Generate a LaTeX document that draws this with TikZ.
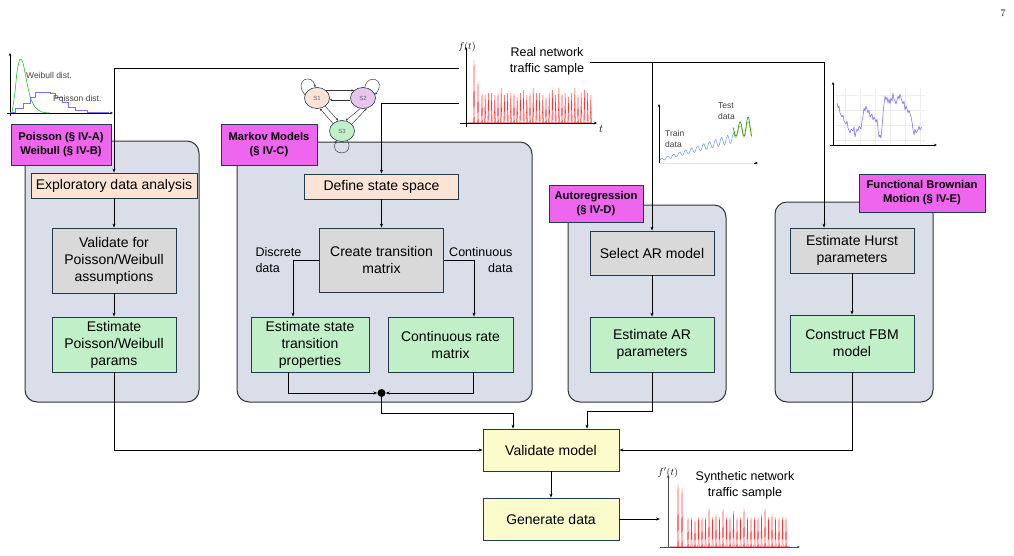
\documentclass[tikz,border=0pt]{standalone}
\usepackage{fontspec}
\setmainfont{Liberation Sans}
\newfontfamily\lmfont{Latin Modern Roman}
\usetikzlibrary{arrows.meta,shapes.geometric}
\definecolor{cpanel}{HTML}{D9DEE8}
\definecolor{ctag}{HTML}{EE66EE}
\definecolor{cpeach}{HTML}{FBE3D6}
\definecolor{cgrey}{HTML}{D9D9D9}
\definecolor{cgreen}{HTML}{C1F0C8}
\definecolor{cyellow}{HTML}{FBFBCB}
\definecolor{cpurple}{HTML}{E6C6EC}
\definecolor{cedge}{HTML}{1F3A4B}
\begin{document}
\begin{tikzpicture}[x=1pt,y=-1pt,
  arr/.style={-{Stealth[length=4pt,width=3pt]},line width=0.7pt},
  sarr/.style={-{Stealth[length=2.5pt,width=2.2pt]},line width=0.45pt,black!80},
  axis/.style={-{Stealth[length=3pt,width=2.5pt]},line width=0.5pt},
  panel/.style={draw=black!80,line width=1pt,fill=cpanel,rounded corners=12pt},
  wh/.style 2 args={minimum width=#1pt,minimum height=#2pt},
  box/.style={draw=cedge,line width=0.8pt,align=center,inner sep=0pt,font=\fontsize{14}{17}\selectfont},
  tag/.style={draw=cedge,line width=0.9pt,fill=ctag,align=center,inner sep=0pt,font=\fontsize{11.2}{14}\selectfont\bfseries},
  state/.style={ellipse,draw=cedge,line width=0.6pt,wh={25}{21},inner sep=0pt,font=\fontsize{6}{7}\selectfont,text=black!60},
  note/.style={align=center,font=\fontsize{12.5}{16}\selectfont},
  small/.style={align=left,inner sep=0pt,font=\fontsize{8.5}{11}\selectfont,text=black!75},
  spike/.style={red!80,line width=0.4pt},
  base/.style={red!35,line width=0.6pt}]
\useasboundingbox (0,0) rectangle (1014,555);
\node[font=\lmfont\fontsize{10}{12}\selectfont] (pg) at (1003,13) {7};

\draw[panel] (25,141) rectangle (199,402);
\draw[panel] (237,142) rectangle (532,402);
\draw[panel] (568,205) rectangle (726,402);
\draw[panel] (775,202) rectangle (933,402);
\node[tag,wh={100}{41}] (lpw) at (61,144.5) {Poisson (§ IV-A)\\Weibull (§ IV-B)};
\node[tag,wh={96}{41}] (lmk) at (269,144.5) {Markov Models\\(§ IV-C)};
\node[tag,wh={94}{37}] (lar) at (596,203.5) {Autoregression\\(§ IV-D)};
\node[tag,wh={126}{38}] (lfbm) at (922,193) {Functional Brownian\\Motion (§ IV-E)};

\node[box,fill=cpeach,wh={166}{25}] (eda) at (114,185.5) {Exploratory data analysis};
\node[box,fill=cgrey,wh={124}{65}] (valpw) at (114,260.5) {Validate for\\Poisson/Weibull\\assumptions};
\node[box,fill=cgreen,wh={124}{55}] (estpw) at (114,344.5) {Estimate\\Poisson/Weibull\\params};
\node[box,fill=cpeach,wh={154}{25}] (dss) at (381.5,186.5) {Define state space};
\node[box,fill=cgrey,wh={124}{64}] (ctm) at (381.5,260) {Create transition\\matrix};
\node[box,fill=cgreen,wh={118}{55}] (ests) at (310,344.5) {Estimate state\\transition\\properties};
\node[box,fill=cgreen,wh={125}{55}] (crm) at (450.5,344.5) {Continuous rate\\matrix};
\node[box,fill=cgrey,wh={124}{44}] (selar) at (652,253) {Select AR model};
\node[box,fill=cgreen,wh={124}{55}] (estar) at (652,344.5) {Estimate AR\\parameters};
\node[box,fill=cgrey,wh={124}{45}] (hurst) at (852,250.5) {Estimate Hurst\\parameters};
\node[box,fill=cgreen,wh={124}{57}] (fbm) at (852,343.5) {Construct FBM\\model};
\node[box,fill=cyellow,wh={136}{42}] (valm) at (551,450) {Validate model};
\node[box,fill=cyellow,wh={136}{42}] (gen) at (551,519) {Generate data};
\node[note,align=left,anchor=west] (disc) at (252,260) {Discrete\\data};
\node[note,align=right,anchor=east] (cont) at (516,260) {Continuous\\data};
\node[circle,fill=black,inner sep=0pt,minimum size=8pt] (dot) at (381.5,393) {};

\coordinate (tapa) at (459,68); \coordinate (tapb) at (459,103); \coordinate (tapc) at (590,62);
\coordinate (synin) at (660,519);
\draw[arr] (tapa) -| (eda.north);
\draw[arr] (tapb) -| (dss.north);
\draw[arr] (tapc) -| (selar.north);
\draw[arr] (tapc) -| ([xshift=-28pt]hurst.north);
\draw[arr] (eda) -- (valpw); \draw[arr] (valpw) -- (estpw);
\draw[arr] (estpw.south) |- (valm.west);
\draw[arr] (dss) -- (ctm);
\draw[arr] (ctm.west) -| ([xshift=-17pt]ests.north);
\draw[arr] (ctm.east) -| ([xshift=23.5pt]crm.north);
\draw[arr] ([xshift=-22pt]ests.south) |- (dot);
\draw[arr] ([xshift=22.5pt]crm.south) |- (dot);
\draw[arr] (dot) -- (381.5,413) -| ([xshift=-38pt]valm.north);
\draw[arr] (selar) -- (estar);
\draw[arr] (estar.south) -- (652,411) -| ([xshift=36pt]valm.north);
\draw[arr] (hurst) -- (fbm);
\draw[arr] (fbm.south) |- (valm.east);
\draw[arr] (valm) -- (gen);
\draw[arr] (gen.east) -- (synin);

\node[state,fill=cpeach] (s1) at (317,98) {S1};
\node[state,fill=cpurple] (s2) at (363,98) {S2};
\node[state,fill=cgreen] (s3) at (342,131) {S3};
\draw[sarr] (s1.40) -- (s2.140); \draw[sarr] (s2.188) -- (s1.-8);
\draw[sarr] (s3.140) -- (s1.-75); \draw[sarr] (s1.-45) -- (s3.110);
\draw[sarr] (s2.-105) -- (s3.70); \draw[sarr] (s3.35) -- (s2.-70);
\draw[sarr] (s1.165) .. controls +(-12,-16) and +(-2,-14) .. (s1.100);
\draw[sarr] (s2.80) .. controls +(2,-14) and +(12,-16) .. (s2.15);
\draw[sarr] (s3.-60) .. controls +(8,16) and +(-8,16) .. (s3.-120);

\draw[axis] (10,116) -- (10,53); \draw[axis] (7,113) -- (113,113);
\draw[green!45!black!50!green,line width=0.5pt] plot[smooth] coordinates {(12,113) (15,92) (17,72) (20,59) (23,63) (26,78) (30,96) (35,107) (42,112) (50,113)};
\draw[blue!55,line width=0.5pt] (10,112) -| (15,108) -| (23,103) -| (30,97) -| (35,92) -| (50,93) -| (55,97) -| (62,102) -| (68,107) -| (75,110) -| (87,112) -| (108,113);
\node[small,anchor=west] (wbl) at (26,75) {Weibull dist.};
\node[small,anchor=west] (psn) at (53,98) {Poisson dist.};

\draw[axis] (466,127) -- (466,47); \draw[axis] (460,123) -- (597,123);
\node[font=\fontsize{10}{12}\selectfont] (ft) at (467,47) {$f(t)$};
\node[font=\fontsize{11}{12}\selectfont] (tt) at (601,129) {$t$};
\node[note] (real) at (547,61) {Real network\\traffic sample};
\draw[base] (468,122) -- (592,122);
\draw[spike] (473.4,123) -- (474,60) -- (474.6,123); \draw[spike] (477.4,123) -- (478,81) -- (478.6,123);
\foreach \h [count=\i from 0] in {93,95,93,93,95,93,88,95,93,93,93,97,93,90,95,93,88,93,93,95,97,93,90,95,88,93,93,97,93,88,95,93,90,93,95}
  \draw[spike] ({482+3.2*\i-0.6},123) -- ({482+3.2*\i},\h) -- ({482+3.2*\i+0.6},123);

\draw[axis] (659,164) -- (659,104);
\draw[black!12,line width=0.4pt] (659,163) -- (754,163); \draw[axis] (754,163) -- (758,163);
\draw[orange!60,line width=0.6pt] plot[domain=73:92,samples=60] ({660+\x},{134-0.3*(\x-73)-(4+0.25*(\x-73))*sin((\x-80)*45+90)});
\draw[cyan!50!blue!60,line width=0.5pt] plot[domain=0:75,samples=220] ({660+\x},{160-0.3*\x-(1+0.05*\x)*sin(\x*60)});
\draw[green!50!black!70!green,line width=0.6pt] plot[domain=73:92,samples=60] ({660+\x},{131-0.3*(\x-73)-(5+0.3*(\x-73))*sin((\x-80)*45+90)});
\node[small,anchor=north west] (trn) at (665,130) {Train\\data};
\node[small,anchor=north west] (tst) at (718,102) {Test\\data};

\foreach \gx in {845,860,875,890,905,920} \draw[black!7,line width=0.4pt] (\gx,88) -- (\gx,145);
\foreach \gy in {95,110,125,140} \draw[black!7,line width=0.4pt] (835,\gy) -- (925,\gy);
\draw[axis] (833,146) -- (833,82); \draw[axis] (830,145) -- (937,145);
\draw[blue!60,line width=0.5pt,line join=round] plot coordinates {(837,103) (838,108) (839,106) (840,113) (842,117) (843,115) (844,121) (846,124) (847,121) (848,128) (850,133) (851,129) (853,131) (854,127) (855,137) (856,132) (857,129) (858,131) (859,126) (861,129) (862,121) (863,116) (864,108) (865,111) (866,106) (868,113) (869,110) (870,117) (872,114) (873,120) (874,117) (876,122) (877,119) (878,129) (879,137) (880,135) (881,138) (882,127) (883,114) (884,104) (885,96) (886,100) (887,97) (888,103) (889,99) (890,104) (891,98) (892,101) (893,93) (894,99) (895,101) (896,104) (897,100) (898,96) (899,99) (900,94) (901,98) (903,104) (904,101) (905,110) (906,106) (907,109) (908,113) (909,110) (911,117) (912,122) (913,130) (914,135) (915,129) (916,133) (918,130) (919,126) (920,130) (922,127)};

\draw[axis,black!70] (668,548) -- (668,475); \draw[axis,black!70] (660,547) -- (800,547);
\node[font=\fontsize{10}{12}\selectfont] (fpt) at (668,473) {$f'(t)$};
\node[note] (syn) at (745,485) {Synthetic network\\traffic sample};
\draw[base] (670,546) -- (790,546);
\draw[spike] (677.4,547) -- (678,483) -- (678.6,547); \draw[spike] (681.4,547) -- (682,488) -- (682.6,547);
\foreach \h [count=\i from 0] in {517,517,520,517,517,517,508,517,514,517,508,517,517,511,517,517,508,517,517,517,517,514,508,517,514,517,517,517,517}
  \draw[spike] ({688+3.5*\i-0.6},547) -- ({688+3.5*\i},\h) -- ({688+3.5*\i+0.6},547);
\end{tikzpicture}
\end{document}
